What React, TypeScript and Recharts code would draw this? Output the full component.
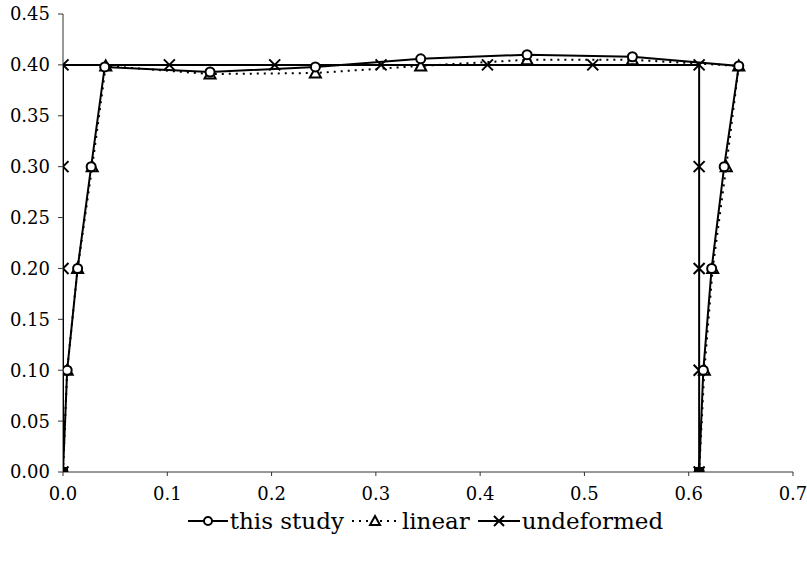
import React from "react";
import { ScatterChart, Scatter, XAxis, YAxis, Legend } from "recharts";

const FONT = '"DejaVu Serif", serif';

// frame nodes (x = horizontal position, y = height)
const thisStudyX = [0, 0.004, 0.014, 0.027, 0.04, 0.141, 0.242, 0.343, 0.445, 0.546, 0.648, 0.634, 0.622, 0.614, 0.61];
const thisStudyY = [0, 0.1, 0.2, 0.3, 0.398, 0.393, 0.398, 0.406, 0.41, 0.408, 0.399, 0.3, 0.2, 0.1, 0];

const linearX = [0, 0.004, 0.014, 0.028, 0.041, 0.141, 0.242, 0.343, 0.445, 0.546, 0.648, 0.636, 0.623, 0.615, 0.61];
const linearY = [0, 0.1, 0.2, 0.3, 0.399, 0.391, 0.392, 0.399, 0.405, 0.405, 0.399, 0.3, 0.2, 0.1, 0];

const undeformedX = [0, 0, 0, 0, 0, 0.102, 0.203, 0.305, 0.407, 0.508, 0.61, 0.61, 0.61, 0.61, 0.61];
const undeformedY = [0, 0.1, 0.2, 0.3, 0.4, 0.4, 0.4, 0.4, 0.4, 0.4, 0.4, 0.3, 0.2, 0.1, 0];

const supportX = [0, 0.61];
const supportY = [0, 0];

const xTicks = [0, 0.1, 0.2, 0.3, 0.4, 0.5, 0.6, 0.7];
const yTicks = [0, 0.05, 0.1, 0.15, 0.2, 0.25, 0.3, 0.35, 0.4, 0.45];

const zip = (xs: number[], ys: number[]) => xs.map((x, i) => ({ x, y: ys[i] }));

const thisStudy = zip(thisStudyX, thisStudyY);
const linear = zip(linearX, linearY);
const undeformed = zip(undeformedX, undeformedY);
const supports = zip(supportX, supportY);

const Circle = ({ cx, cy }: any) => (
  <circle cx={cx} cy={cy} r={4.5} fill="#fff" stroke="#000" strokeWidth={2} />
);

const Triangle = ({ cx, cy }: any) => (
  <path
    d={`M${cx},${cy - 5.5} L${cx + 5.5},${cy + 4.5} L${cx - 5.5},${cy + 4.5} Z`}
    fill="#fff"
    stroke="#000"
    strokeWidth={2}
  />
);

const Cross = ({ cx, cy }: any) => (
  <path
    d={`M${cx - 5.5},${cy - 5.5} L${cx + 5.5},${cy + 5.5} M${cx + 5.5},${cy - 5.5} L${cx - 5.5},${cy + 5.5}`}
    stroke="#000"
    strokeWidth={2}
    fill="none"
  />
);

const Square = ({ cx, cy }: any) => <rect x={cx - 5} y={cy - 5} width={10} height={10} fill="#000" />;

const XTick = ({ x, y, payload }: any) => (
  <text x={x} y={y} dy="0.75em" textAnchor="middle" fontFamily={FONT} fontSize={18} fill="#000">
    {payload.value.toFixed(1)}
  </text>
);

const YTick = ({ x, y, payload }: any) => (
  <text x={x} y={y} dy="0.36em" textAnchor="end" fontFamily={FONT} fontSize={18} fill="#000">
    {payload.value.toFixed(2)}
  </text>
);

const LegendContent = () => (
  <div
    style={{
      height: 30,
      display: "flex",
      justifyContent: "center",
      alignItems: "center",
      paddingLeft: 50,
      fontFamily: FONT,
      fontSize: 23,
      color: "#000",
    }}
  >
    <svg width={40} height={20}>
      <line x1={0} y1={10} x2={40} y2={10} stroke="#000" strokeWidth={2} />
      <circle cx={20} cy={10} r={4} fill="#fff" stroke="#000" strokeWidth={2} />
    </svg>
    <span style={{ marginLeft: 2, marginRight: 8 }}>this study</span>
    <svg width={46} height={20}>
      <line x1={0} y1={10} x2={46} y2={10} stroke="#000" strokeWidth={2} strokeDasharray="2 5" />
      <path d="M23,5 L28,14 L18,14 Z" fill="#fff" stroke="#000" strokeWidth={2} />
    </svg>
    <span style={{ marginLeft: 4, marginRight: 8 }}>linear</span>
    <svg width={42} height={20}>
      <line x1={0} y1={10} x2={42} y2={10} stroke="#000" strokeWidth={2} />
      <path d="M16,5 L26,15 M26,5 L16,15" stroke="#000" strokeWidth={2} />
    </svg>
    <span style={{ marginLeft: 2 }}>undeformed</span>
  </div>
);

export default function App() {
  return (
    <>
      <style>{"body{margin:0}"}</style>
      <ScatterChart width={807} height={553} margin={{ top: 14, right: 14, bottom: 17, left: 8 }}>
        <XAxis
          type="number"
          dataKey="x"
          domain={[0, 0.7]}
          ticks={xTicks}
          height={34}
          tickSize={4}
          tickMargin={10}
          stroke="#333"
          tick={<XTick />}
          interval={0}
          allowDataOverflow
        />
        <YAxis
          type="number"
          dataKey="y"
          domain={[0, 0.45]}
          ticks={yTicks}
          width={55}
          tickSize={5}
          tickMargin={8}
          stroke="#333"
          tick={<YTick />}
          interval={0}
          allowDataOverflow
        />
        <Legend verticalAlign="bottom" content={<LegendContent />} />
        <Scatter
          name="undeformed"
          data={undeformed}
          line={{ stroke: "#000", strokeWidth: 2 }}
          lineType="joint"
          shape={Cross}
          isAnimationActive={false}
        />
        <Scatter
          name="linear"
          data={linear}
          line={{ stroke: "#000", strokeWidth: 2, strokeDasharray: "2 5" }}
          lineType="joint"
          shape={Triangle}
          isAnimationActive={false}
        />
        <Scatter
          name="this study"
          data={thisStudy}
          line={{ stroke: "#000", strokeWidth: 2 }}
          lineType="joint"
          shape={Circle}
          isAnimationActive={false}
        />
        <Scatter name="supports" data={supports} shape={Square} legendType="none" isAnimationActive={false} />
      </ScatterChart>
    </>
  );
}
